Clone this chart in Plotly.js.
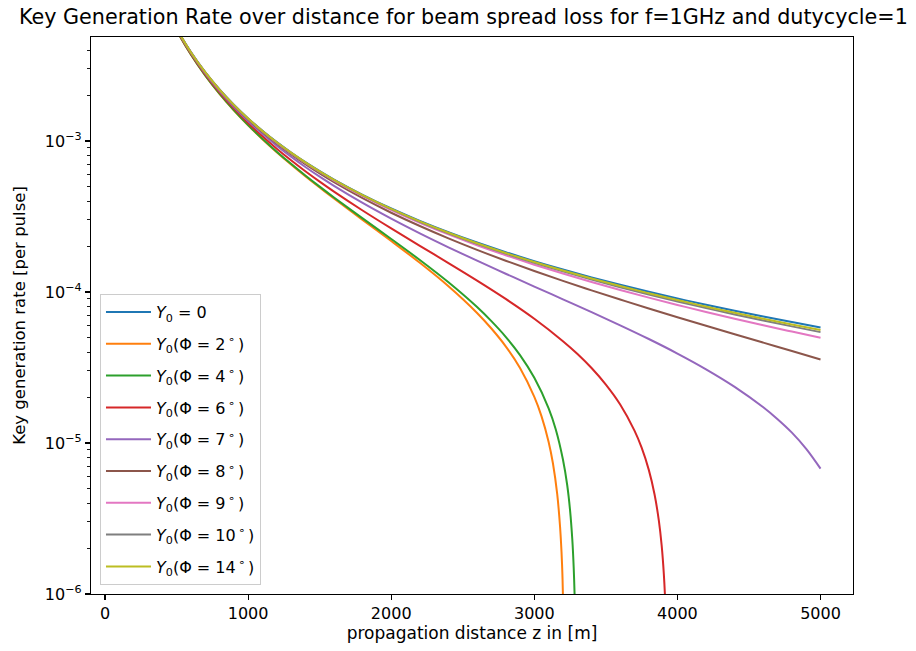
<!DOCTYPE html>
<html><head><meta charset="utf-8">
<script src="https://cdn.plot.ly/plotly-3.0.1.min.js"></script>
<style>html,body{margin:0;padding:0;background:#fff;} #chart{width:916px;height:651px;}</style>
</head><body><div id="chart"></div>
<script>
// distance grid [m]
const xGrid = [400,500,600,700,800,900,1000,1100,1200,1300,1400,1500,1600,1800,2000,2200,2400,2600,2800,3000,3200,3400,3600,3800,4000,4200,4400,4600,4800,5000];
const yZero = [8.657e-3,5.565e-3,3.879e-3,2.858e-3,2.194e-3,1.738e-3,1.411e-3,1.168e-3,9.833e-4,8.393e-4,7.245e-4,6.320e-4,5.562e-4,4.405e-4,3.576e-4,2.961e-4,2.492e-4,2.127e-4,1.837e-4,1.602e-4,1.410e-4,1.251e-4,1.117e-4,1.003e-4,9.064e-5,8.229e-5,7.505e-5,6.874e-5,6.321e-5,5.826e-5];

const x2 = [400,500,600,700,800,900,1000,1100,1200,1300,1400,1500,1600,1800,2000,2200,2400,2600,2700,2800,2900,3000,3050,3100,3130,3160,3180,3190,3196,3200,3205];
const y2 = [8.517e-3,5.425e-3,3.739e-3,2.718e-3,2.054e-3,1.598e-3,1.271e-3,1.028e-3,8.433e-4,6.993e-4,5.845e-4,4.920e-4,4.162e-4,3.005e-4,2.176e-4,1.561e-4,1.092e-4,7.27e-5,5.732e-5,4.37e-5,3.140e-5,2.023e-5,1.508e-5,1.017e-5,7.34e-6,4.58e-6,2.78e-6,1.90e-6,1.37e-6,9.7e-7,5.9e-7];

const x4 = [400,500,600,700,800,900,1000,1100,1200,1300,1400,1500,1600,1800,2000,2200,2400,2600,2700,2800,2900,3000,3100,3150,3200,3230,3250,3265,3275,3283,3290];
const y4 = [8.524e-3,5.432e-3,3.746e-3,2.725e-3,2.061e-3,1.605e-3,1.278e-3,1.035e-3,8.501e-4,7.061e-4,5.913e-4,4.988e-4,4.230e-4,3.073e-4,2.244e-4,1.629e-4,1.160e-4,7.95e-5,6.412e-5,5.05e-5,3.820e-5,2.703e-5,1.697e-5,1.229e-5,7.77e-6,5.25e-6,3.57e-6,2.33e-6,1.51e-6,8.6e-7,2.9e-7];

const x6 = [400,500,600,700,800,900,1000,1100,1200,1300,1400,1500,1600,1800,2000,2200,2400,2600,2800,3000,3200,3300,3400,3500,3600,3700,3750,3800,3840,3870,3890,3905,3915,3925];
const y6 = [8.563e-3,5.471e-3,3.785e-3,2.764e-3,2.100e-3,1.644e-3,1.317e-3,1.074e-3,8.896e-4,7.456e-4,6.308e-4,5.383e-4,4.625e-4,3.468e-4,2.639e-4,2.024e-4,1.555e-4,1.190e-4,9.000e-5,6.653e-5,4.727e-5,3.900e-5,3.138e-5,2.436e-5,1.798e-5,1.207e-5,9.31e-6,6.64e-6,4.58e-6,3.07e-6,2.09e-6,1.36e-6,8.8e-7,4.0e-7];

const x7 = [400,500,600,700,800,900,1000,1100,1200,1300,1400,1500,1600,1800,2000,2200,2400,2600,2800,3000,3200,3400,3600,3800,4000,4200,4400,4600,4700,4800,4900,5000];
const y7 = [8.606e-3,5.514e-3,3.828e-3,2.807e-3,2.143e-3,1.687e-3,1.359e-3,1.117e-3,9.318e-4,7.878e-4,6.730e-4,5.805e-4,5.047e-4,3.890e-4,3.061e-4,2.446e-4,1.977e-4,1.612e-4,1.322e-4,1.087e-4,8.947e-5,7.358e-5,6.018e-5,4.884e-5,3.914e-5,3.079e-5,2.355e-5,1.724e-5,1.437e-5,1.171e-5,9.14e-6,6.76e-6];

const y8 = [8.635e-3,5.543e-3,3.857e-3,2.836e-3,2.172e-3,1.716e-3,1.388e-3,1.146e-3,9.608e-4,8.168e-4,7.020e-4,6.095e-4,5.337e-4,4.180e-4,3.351e-4,2.736e-4,2.267e-4,1.902e-4,1.612e-4,1.377e-4,1.185e-4,1.026e-4,8.920e-5,7.784e-5,6.814e-5,5.979e-5,5.255e-5,4.624e-5,4.071e-5,3.576e-5];
const y9 = [8.649e-3,5.557e-3,3.871e-3,2.850e-3,2.186e-3,1.730e-3,1.402e-3,1.160e-3,9.748e-4,8.308e-4,7.160e-4,6.235e-4,5.477e-4,4.320e-4,3.491e-4,2.876e-4,2.407e-4,2.042e-4,1.752e-4,1.517e-4,1.325e-4,1.166e-4,1.032e-4,9.184e-5,8.214e-5,7.379e-5,6.655e-5,6.024e-5,5.471e-5,4.976e-5];
const y10 = [8.653e-3,5.561e-3,3.875e-3,2.854e-3,2.190e-3,1.734e-3,1.407e-3,1.164e-3,9.793e-4,8.353e-4,7.205e-4,6.280e-4,5.522e-4,4.365e-4,3.536e-4,2.921e-4,2.452e-4,2.087e-4,1.797e-4,1.562e-4,1.370e-4,1.211e-4,1.077e-4,9.634e-5,8.664e-5,7.829e-5,7.105e-5,6.474e-5,5.921e-5,5.426e-5];
const y14 = [8.655e-3,5.563e-3,3.877e-3,2.856e-3,2.192e-3,1.736e-3,1.408e-3,1.166e-3,9.811e-4,8.371e-4,7.223e-4,6.298e-4,5.540e-4,4.383e-4,3.554e-4,2.939e-4,2.470e-4,2.105e-4,1.815e-4,1.580e-4,1.388e-4,1.229e-4,1.095e-4,9.814e-5,8.844e-5,8.009e-5,7.285e-5,6.654e-5,6.101e-5,5.606e-5];

const seriesNames = [
  '<i>Y</i><sub>0</sub> = 0',
  '<i>Y</i><sub>0</sub>(Φ = 2<sup>\u2009∘</sup>\u2009)',
  '<i>Y</i><sub>0</sub>(Φ = 4<sup>\u2009∘</sup>\u2009)',
  '<i>Y</i><sub>0</sub>(Φ = 6<sup>\u2009∘</sup>\u2009)',
  '<i>Y</i><sub>0</sub>(Φ = 7<sup>\u2009∘</sup>\u2009)',
  '<i>Y</i><sub>0</sub>(Φ = 8<sup>\u2009∘</sup>\u2009)',
  '<i>Y</i><sub>0</sub>(Φ = 9<sup>\u2009∘</sup>\u2009)',
  '<i>Y</i><sub>0</sub>(Φ = 10<sup>\u2009∘</sup>\u2009)',
  '<i>Y</i><sub>0</sub>(Φ = 14<sup>\u2009∘</sup>\u2009)'
];
const seriesX = [xGrid, x2, x4, x6, x7, xGrid, xGrid, xGrid, xGrid];
const seriesY = [yZero, y2, y4, y6, y7, y8, y9, y10, y14];
const colors = ['#1f77b4','#ff7f0e','#2ca02c','#d62728','#9467bd','#8c564b','#e377c2','#7f7f7f','#bcbd22'];

const yTickVals = [1e-6,1e-5,1e-4,1e-3];
const yTickText = ['10<sup>−6</sup>','10<sup>−5</sup>','10<sup>−4</sup>','10<sup>−3</sup>'];
const xTickVals = [0,1000,2000,3000,4000,5000];
const titleText = 'Key Generation Rate over distance for beam spread loss for f=1GHz and dutycycle=1';

const minorVals = [];
for (let e = -6; e <= -3; e++) for (let m = 2; m <= 9; m++) minorVals.push(m * Math.pow(10, e));

const FONT = 'DejaVu Sans, sans-serif';
const traces = seriesNames.map((n, i) => ({
  x: seriesX[i], y: seriesY[i], name: n, type: 'scatter', mode: 'lines',
  line: {color: colors[i], width: 2, shape: 'spline', smoothing: 1}, legendgroup: 'g' + i
}));

const layout = {
  width: 916, height: 651,
  margin: {l: 91, r: 63, t: 37, b: 57},
  paper_bgcolor: '#fff', plot_bgcolor: '#fff',
  font: {family: FONT, size: 16, color: '#000'},
  annotations: [{
    text: titleText, xref: 'paper', yref: 'paper', x: (463 - 91) / 762, y: 1 + 20/557,
    xanchor: 'center', yanchor: 'middle', showarrow: false,
    font: {family: FONT, size: 20.7, color: '#000'}
  }],
  xaxis: {
    range: [-98, 5227], tickmode: 'array', tickvals: xTickVals, ticktext: xTickVals.map(String),
    ticks: 'outside', ticklen: 5, tickwidth: 1.1, tickcolor: '#000',
    showline: true, linecolor: '#000', linewidth: 1.1, mirror: true,
    showgrid: false, zeroline: false,
    tickfont: {family: FONT, size: 16},
    title: {text: 'propagation distance z in [m]', font: {family: FONT, size: 17}, standoff: 4}
  },
  yaxis: {
    type: 'log', range: [-6, -2.311], tickmode: 'array', tickvals: yTickVals, ticktext: yTickText,
    ticks: 'outside', ticklen: 5, tickwidth: 1.1, tickcolor: '#000',
    minor: {tickmode: 'array', tickvals: minorVals, ticks: 'outside', ticklen: 3, tickwidth: 0.9, tickcolor: '#000', showgrid: false},
    showline: true, linecolor: '#000', linewidth: 1.1, mirror: true,
    showgrid: false, zeroline: false,
    tickfont: {family: FONT, size: 16},
    title: {text: 'Key generation rate [per pulse]', font: {family: FONT, size: 16.5}, standoff: 15}
  },
  legend: {
    x: 0.0118, y: 0.016, xanchor: 'left', yanchor: 'bottom',
    bgcolor: 'rgba(255,255,255,0.85)', bordercolor: '#cccccc', borderwidth: 1,
    font: {family: FONT, size: 16}, traceorder: 'grouped', tracegroupgap: 8, itemwidth: 45
  },
  showlegend: true
};

Plotly.newPlot('chart', traces, layout, {displayModeBar: false, staticPlot: true});
</script></body></html>
